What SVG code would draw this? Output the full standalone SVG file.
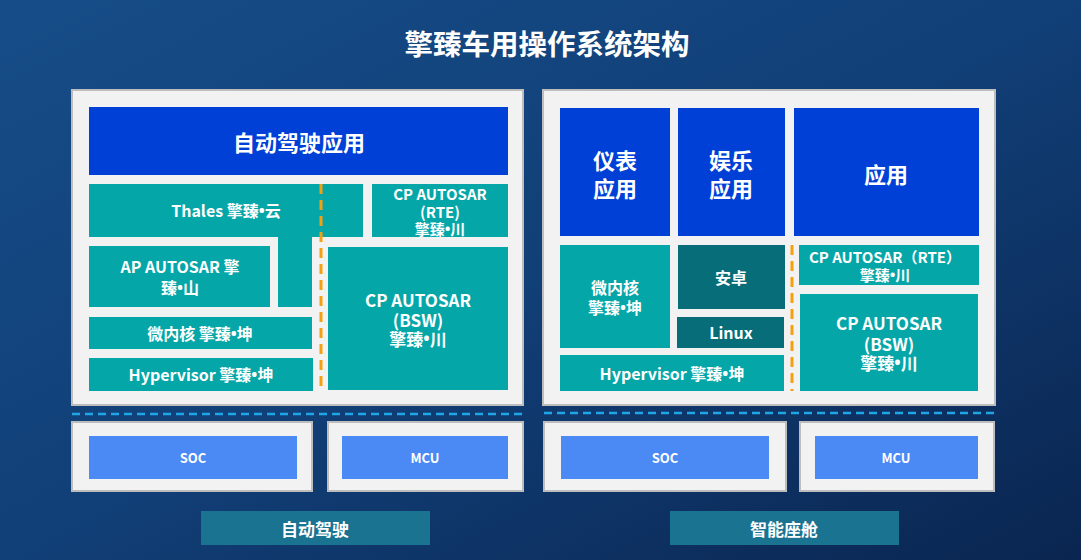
<svg xmlns="http://www.w3.org/2000/svg" width="1081" height="560" viewBox="0 0 1081 560">
<defs>
<linearGradient id="bg" x1="0" y1="0" x2="1" y2="1">
<stop offset="0" stop-color="#164d88"/>
<stop offset="0.5" stop-color="#113f77"/>
<stop offset="1" stop-color="#0a2550"/>
</linearGradient>
<style>
.panel{fill:#f2f2f2;stroke:#bdbdbd;stroke-width:2}
.app{fill:#0040d6}
.teal{fill:#05a6a8}
.dteal{fill:#076e79}
.hw{fill:#4b89f5}
.lab{fill:#1a7391}
text{font-family:"Noto Sans CJK SC","Noto Sans",sans-serif;font-weight:bold;fill:#fff;text-anchor:middle;dominant-baseline:central}
.b{font-family:"Noto Sans","Liberation Sans",sans-serif}
.t14{font-size:15px}
.t15{font-size:16px}
.t16{font-size:17px}
.t21{font-size:22px}
.t13{font-size:13px}
.orange{stroke:#f5a010;stroke-width:3;stroke-dasharray:10 6;fill:none}
.blued{stroke:#1fa6e6;stroke-width:2.5;stroke-dasharray:8 5;fill:none}
</style>
</defs>
<rect width="1081" height="560" fill="url(#bg)"/>
<text x="547" y="42" style="font-size:28.5px">擎臻车用操作系统架构</text>

<g id="panel-left"><rect class="panel" x="72" y="90" width="451" height="315"/></g>
<g id="panel-right"><rect class="panel" x="543" y="90" width="452" height="315"/></g>

<g id="ad-app"><rect class="app" x="89" y="107" width="419" height="68"/><text class="t21" x="299" y="141">自动驾驶应用</text></g>
<g id="thales"><path class="teal" d="M89 184H363V237H312V307H278V237H89Z"/><text class="t15" x="226" y="210">Thales 擎臻<tspan class="b">•</tspan>云</text></g>
<g id="cp-rte-l"><rect class="teal" x="372" y="184" width="136" height="53"/><text class="t14" x="440" y="193">CP AUTOSAR</text><text class="t14" x="440" y="211">(RTE)</text><text class="t14" x="440" y="228">擎臻<tspan class="b">•</tspan>川</text></g>
<g id="ap"><rect class="teal" x="89" y="246" width="181" height="61"/><text class="t15" x="180" y="266">AP AUTOSAR 擎</text><text class="t15" x="180" y="287">臻<tspan class="b">•</tspan>山</text></g>
<g id="mk-l"><rect class="teal" x="89" y="317" width="223" height="32"/><text class="t15" x="200" y="333">微内核 擎臻<tspan class="b">•</tspan>坤</text></g>
<g id="hv-l"><rect class="teal" x="89" y="358" width="224" height="33"/><text class="t15" x="201" y="374">Hypervisor 擎臻<tspan class="b">•</tspan>坤</text></g>
<g id="cp-bsw-l"><rect class="teal" x="328" y="247" width="180" height="143"/><text class="t16" x="418" y="299">CP AUTOSAR</text><text class="t16" x="418" y="319">(BSW)</text><text class="t16" x="418" y="338">擎臻<tspan class="b">•</tspan>川</text></g>

<g id="cluster"><rect class="app" x="560" y="108" width="110" height="128"/><text class="t21" x="615" y="159">仪表</text><text class="t21" x="615" y="187">应用</text></g>
<g id="ent"><rect class="app" x="678" y="108" width="107" height="128"/><text class="t21" x="731" y="159">娱乐</text><text class="t21" x="731" y="187">应用</text></g>
<g id="app-r"><rect class="app" x="794" y="108" width="185" height="128"/><text class="t21" x="886" y="173">应用</text></g>
<g id="mk-r"><rect class="teal" x="560" y="245" width="110" height="103"/><text class="t15" x="615" y="287">微内核</text><text class="t15" x="615" y="307">擎臻<tspan class="b">•</tspan>坤</text></g>
<g id="android"><rect class="dteal" x="678" y="245" width="107" height="64"/><text class="t15" x="731" y="277">安卓</text></g>
<g id="linux"><rect class="dteal" x="677" y="317" width="107" height="31"/><text class="t15" x="731" y="332">Linux</text></g>
<g id="hv-r"><rect class="teal" x="560" y="355" width="224" height="36"/><text class="t15" x="672" y="373">Hypervisor 擎臻<tspan class="b">•</tspan>坤</text></g>
<g id="cp-rte-r"><rect class="teal" x="799" y="245" width="180" height="40"/><text class="t14" x="885" y="256">CP AUTOSAR（RTE）</text><text class="t14" x="885" y="274">擎臻<tspan class="b">•</tspan>川</text></g>
<g id="cp-bsw-r"><rect class="teal" x="800" y="294" width="178" height="97"/><text class="t16" x="889" y="322">CP AUTOSAR</text><text class="t16" x="889" y="343">(BSW)</text><text class="t16" x="889" y="362">擎臻<tspan class="b">•</tspan>川</text></g>

<g id="soc-l"><rect class="panel" x="72" y="422" width="240" height="69"/><rect class="hw" x="89" y="436" width="208" height="43"/><text class="t13" x="193" y="457">SOC</text></g>
<g id="mcu-l"><rect class="panel" x="328" y="422" width="195" height="69"/><rect class="hw" x="342" y="436" width="166" height="43"/><text class="t13" x="425" y="457">MCU</text></g>
<g id="soc-r"><rect class="panel" x="544" y="422" width="242" height="69"/><rect class="hw" x="561" y="436" width="208" height="43"/><text class="t13" x="665" y="457">SOC</text></g>
<g id="mcu-r"><rect class="panel" x="800" y="422" width="194" height="69"/><rect class="hw" x="815" y="436" width="163" height="43"/><text class="t13" x="896" y="457">MCU</text></g>

<g id="label-ad"><rect class="lab" x="201" y="511" width="229" height="34"/><text class="t16" x="315" y="528">自动驾驶</text></g>
<g id="label-cockpit"><rect class="lab" x="670" y="511" width="229" height="34"/><text class="t16" x="784" y="528">智能座舱</text></g>

<g id="connectors">
<line class="orange" x1="321" y1="184" x2="321" y2="390"/>
<line class="orange" x1="792" y1="245" x2="792" y2="391"/>
<line class="blued" x1="72" y1="414" x2="523" y2="414"/>
<line class="blued" x1="544" y1="413" x2="995" y2="413"/>
</g>
</svg>
